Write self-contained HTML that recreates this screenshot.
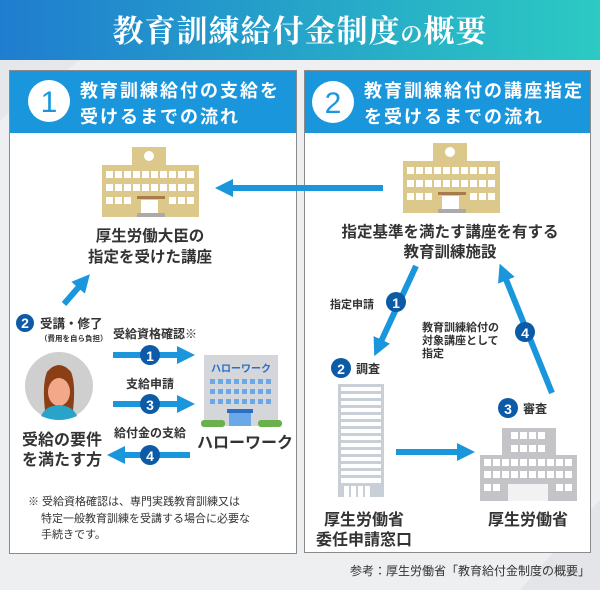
<!DOCTYPE html>
<html><head><meta charset="utf-8"><style>
html,body{margin:0;padding:0;background:#eeeff1;}
svg{display:block}
text{font-family:"Liberation Sans","Noto Sans CJK JP",sans-serif;}
.t{font-weight:bold;fill:#333;}
.w{fill:#fff;font-weight:bold;}
</style></head><body>
<svg width="600" height="590" viewBox="0 0 600 590" xmlns="http://www.w3.org/2000/svg">
<defs>
<linearGradient id="g" x1="0" x2="1"><stop offset="0" stop-color="#1f7dcf"/><stop offset="1" stop-color="#2ccac3"/></linearGradient>
<marker id="ah" markerWidth="3" markerHeight="3" refX="1.5" refY="1.5" orient="auto" markerUnits="strokeWidth"><path d="M0,0 L3,1.5 L0,3 z" fill="#1a96dc"/></marker>
</defs>
<rect width="600" height="590" fill="#eeeff1"/>
<polygon points="0,120 80,60 0,60" fill="#e6e7ea"/>
<polygon points="520,590 600,500 600,590" fill="#e4e5e8"/>
<rect width="600" height="60" fill="url(#g)"/>
<text x="300" y="42" text-anchor="middle" font-size="31" fill="#fff" style="font-family:'Noto Serif CJK SC','Liberation Serif',serif;font-weight:bold;letter-spacing:1px">教育訓練給付金制度<tspan font-size="22">の</tspan>概要</text>

<rect x="9.5" y="70.5" width="287" height="483" fill="#fff" stroke="#8a8a8a"/>
<rect x="10" y="71" width="286" height="62" fill="#1a96dc"/>
<rect x="304.5" y="70.5" width="286" height="482" fill="#fff" stroke="#8a8a8a"/>
<rect x="305" y="71" width="285" height="62" fill="#1a96dc"/>
<circle cx="49" cy="101" r="21" fill="#fff"/>
<text x="49" y="112" text-anchor="middle" font-size="30" fill="#1a96dc">1</text>
<text x="80" y="97" class="w" font-size="18" letter-spacing="2">教育訓練給付の支給を</text>
<text x="80" y="123" class="w" font-size="18" letter-spacing="2">受けるまでの流れ</text>
<circle cx="333" cy="102" r="21" fill="#fff"/>
<text x="333" y="113" text-anchor="middle" font-size="30" fill="#1a96dc">2</text>
<text x="364" y="97" class="w" font-size="18" letter-spacing="2">教育訓練給付の講座指定</text>
<text x="364" y="123" class="w" font-size="18" letter-spacing="2">を受けるまでの流れ</text>

<g id="school">
<rect x="132" y="147" width="34" height="20" fill="#dcc88a"/>
<circle cx="149" cy="156" r="5" fill="#fff"/>
<rect x="102" y="165" width="97" height="52" fill="#dcc88a"/>
<g fill="#fff">
<rect x="106" y="171" width="7" height="7"/><rect x="115" y="171" width="7" height="7"/><rect x="124" y="171" width="7" height="7"/><rect x="133" y="171" width="7" height="7"/><rect x="142" y="171" width="7" height="7"/><rect x="151" y="171" width="7" height="7"/><rect x="160" y="171" width="7" height="7"/><rect x="169" y="171" width="7" height="7"/><rect x="178" y="171" width="7" height="7"/><rect x="187" y="171" width="7" height="7"/>
<rect x="106" y="184" width="7" height="7"/><rect x="115" y="184" width="7" height="7"/><rect x="124" y="184" width="7" height="7"/><rect x="133" y="184" width="7" height="7"/><rect x="142" y="184" width="7" height="7"/><rect x="151" y="184" width="7" height="7"/><rect x="160" y="184" width="7" height="7"/><rect x="169" y="184" width="7" height="7"/><rect x="178" y="184" width="7" height="7"/><rect x="187" y="184" width="7" height="7"/>
<rect x="106" y="197" width="7" height="7"/><rect x="115" y="197" width="7" height="7"/><rect x="124" y="197" width="7" height="7"/><rect x="169" y="197" width="7" height="7"/><rect x="178" y="197" width="7" height="7"/><rect x="187" y="197" width="7" height="7"/>
<rect x="141" y="200" width="17" height="13"/>
</g>
<rect x="137" y="196" width="28" height="3" fill="#a87c4a"/>
<rect x="137" y="213" width="28" height="4" fill="#aaa"/>
</g>
<use href="#school" transform="translate(301,-4)"/>

<text x="150" y="241" text-anchor="middle" class="t" font-size="15.5">厚生労働大臣の</text>
<text x="150" y="262" text-anchor="middle" class="t" font-size="15.5">指定を受けた講座</text>
<text x="450" y="237" text-anchor="middle" class="t" font-size="15.5">指定基準を満たす講座を有する</text>
<text x="450" y="257" text-anchor="middle" class="t" font-size="15.5">教育訓練施設</text>

<g stroke="#1a96dc" stroke-width="6" fill="none" marker-end="url(#ah)">
<line x1="383" y1="188" x2="224" y2="188"/>
<line x1="64" y1="304" x2="84" y2="281"/>
<line x1="113" y1="355" x2="186" y2="355"/>
<line x1="113" y1="404" x2="186" y2="404"/>
<line x1="190" y1="455" x2="116" y2="455"/>
<line x1="416" y1="266" x2="378" y2="348"/>
<line x1="396" y1="452" x2="466" y2="452"/>
<line x1="552" y1="393" x2="503" y2="272"/>
</g>

<g font-size="14" font-weight="bold" fill="#fff" text-anchor="middle">
<circle cx="25" cy="323" r="9" fill="#0d5aa7"/><text x="25" y="328">2</text>
<circle cx="150" cy="355" r="10" fill="#0d5aa7"/><text x="150" y="361">1</text>
<circle cx="150" cy="404" r="10" fill="#0d5aa7"/><text x="150" y="410">3</text>
<circle cx="150" cy="455" r="10" fill="#0d5aa7"/><text x="150" y="461">4</text>
<circle cx="396" cy="302" r="10" fill="#0d5aa7"/><text x="396" y="308">1</text>
<circle cx="341" cy="368" r="10" fill="#0d5aa7"/><text x="341" y="374">2</text>
<circle cx="525" cy="332" r="10" fill="#0d5aa7"/><text x="525" y="338">4</text>
<circle cx="508" cy="408" r="10" fill="#0d5aa7"/><text x="508" y="414">3</text>
</g>

<text x="40" y="328" class="t" font-size="12.5">受講・修了</text>
<text x="40" y="341" class="t" font-size="7.5">（費用を自ら負担）</text>
<text x="155" y="338" text-anchor="middle" class="t" font-size="12">受給資格確認※</text>
<text x="150" y="388" text-anchor="middle" class="t" font-size="12">支給申請</text>
<text x="150" y="437" text-anchor="middle" class="t" font-size="12">給付金の支給</text>

<!-- person -->
<circle cx="59" cy="386" r="34" fill="#cfcfcf"/>
<path d="M45,410 Q42,384 47,372 Q59,358 71,372 Q76,384 73,410 Z" fill="#8b3f14"/>
<ellipse cx="59" cy="392" rx="11" ry="14" fill="#f4a88a"/>
<path d="M47,378 Q59,366 71,378 L71,372 Q59,360 47,372Z" fill="#8b3f14"/>
<path d="M41,416 Q45,406 59,405 Q73,406 77,416 Q68,420 59,420 Q50,420 41,416Z" fill="#2aa3c8"/>
<text x="22" y="445" class="t" font-size="16">受給の要件</text>
<text x="22" y="465" class="t" font-size="16">を満たす方</text>

<!-- hello work -->
<rect x="204" y="355" width="74" height="71" fill="#d4d6da"/>
<text x="241" y="372" text-anchor="middle" font-size="10" font-weight="bold" fill="#2a6fc4">ハローワーク</text>
<g fill="#6aa8e8">
<rect x="210" y="379" width="5" height="5"/><rect x="218" y="379" width="5" height="5"/><rect x="226" y="379" width="5" height="5"/><rect x="234" y="379" width="5" height="5"/><rect x="242" y="379" width="5" height="5"/><rect x="250" y="379" width="5" height="5"/><rect x="258" y="379" width="5" height="5"/><rect x="266" y="379" width="5" height="5"/>
<rect x="210" y="389" width="5" height="5"/><rect x="218" y="389" width="5" height="5"/><rect x="226" y="389" width="5" height="5"/><rect x="234" y="389" width="5" height="5"/><rect x="242" y="389" width="5" height="5"/><rect x="250" y="389" width="5" height="5"/><rect x="258" y="389" width="5" height="5"/><rect x="266" y="389" width="5" height="5"/>
<rect x="210" y="399" width="5" height="5"/><rect x="218" y="399" width="5" height="5"/><rect x="226" y="399" width="5" height="5"/><rect x="234" y="399" width="5" height="5"/><rect x="242" y="399" width="5" height="5"/><rect x="250" y="399" width="5" height="5"/><rect x="258" y="399" width="5" height="5"/><rect x="266" y="399" width="5" height="5"/>
<rect x="229" y="412" width="22" height="14"/>
</g>
<rect x="227" y="409" width="26" height="4" fill="#2a6fc4"/>
<rect x="201" y="420" width="24" height="7" rx="3" fill="#6ab04c"/>
<rect x="258" y="420" width="24" height="7" rx="3" fill="#6ab04c"/>
<text x="245" y="448" text-anchor="middle" class="t" font-size="16">ハローワーク</text>

<text x="28" y="505" fill="#333" font-size="11">※ 受給資格確認は、専門実践教育訓練又は</text>
<text x="41" y="522" fill="#333" font-size="11">特定一般教育訓練を受講する場合に必要な</text>
<text x="41" y="538" fill="#333" font-size="11">手続きです。</text>

<text x="330" y="308" class="t" font-size="11">指定申請</text>
<text x="356" y="373" class="t" font-size="12">調査</text>
<text x="523" y="413" class="t" font-size="12">審査</text>
<text x="422" y="331" class="t" font-size="11">教育訓練給付の</text>
<text x="422" y="344" class="t" font-size="11">対象講座として</text>
<text x="422" y="357" class="t" font-size="11">指定</text>

<rect x="338" y="384" width="46" height="113" fill="#c9cfd6"/>
<g fill="#fff">
<rect x="341" y="387" width="40" height="4"/><rect x="341" y="394" width="40" height="4"/><rect x="341" y="401" width="40" height="4"/><rect x="341" y="408" width="40" height="4"/><rect x="341" y="415" width="40" height="4"/><rect x="341" y="422" width="40" height="4"/><rect x="341" y="429" width="40" height="4"/><rect x="341" y="436" width="40" height="4"/><rect x="341" y="443" width="40" height="4"/><rect x="341" y="450" width="40" height="4"/><rect x="341" y="457" width="40" height="4"/><rect x="341" y="464" width="40" height="4"/><rect x="341" y="471" width="40" height="4"/><rect x="341" y="478" width="40" height="5"/>
<rect x="344" y="486" width="5" height="11"/><rect x="351" y="486" width="5" height="11"/><rect x="358" y="486" width="5" height="11"/><rect x="365" y="486" width="5" height="11"/>
</g>

<rect x="502" y="428" width="54" height="30" fill="#c4c4c8"/>
<rect x="480" y="455" width="97" height="46" fill="#c4c4c8"/>
<g fill="#fff">
<rect x="511" y="432" width="7" height="7"/><rect x="520" y="432" width="7" height="7"/><rect x="529" y="432" width="7" height="7"/><rect x="538" y="432" width="7" height="7"/>
<rect x="511" y="445" width="7" height="7"/><rect x="520" y="445" width="7" height="7"/><rect x="529" y="445" width="7" height="7"/><rect x="538" y="445" width="7" height="7"/>
<rect x="484" y="459" width="7" height="7"/><rect x="493" y="459" width="7" height="7"/><rect x="502" y="459" width="7" height="7"/><rect x="511" y="459" width="7" height="7"/><rect x="520" y="459" width="7" height="7"/><rect x="529" y="459" width="7" height="7"/><rect x="538" y="459" width="7" height="7"/><rect x="547" y="459" width="7" height="7"/><rect x="556" y="459" width="7" height="7"/><rect x="565" y="459" width="7" height="7"/>
<rect x="484" y="471" width="7" height="7"/><rect x="493" y="471" width="7" height="7"/><rect x="502" y="471" width="7" height="7"/><rect x="511" y="471" width="7" height="7"/><rect x="520" y="471" width="7" height="7"/><rect x="529" y="471" width="7" height="7"/><rect x="538" y="471" width="7" height="7"/><rect x="547" y="471" width="7" height="7"/><rect x="556" y="471" width="7" height="7"/><rect x="565" y="471" width="7" height="7"/>
<rect x="484" y="484" width="7" height="7"/><rect x="493" y="484" width="7" height="7"/><rect x="556" y="484" width="7" height="7"/><rect x="565" y="484" width="7" height="7"/>
<rect x="508" y="484" width="40" height="17" fill="#f2f2f2"/>
</g>

<text x="364" y="525" text-anchor="middle" class="t" font-size="16">厚生労働省</text>
<text x="364" y="545" text-anchor="middle" class="t" font-size="16">委任申請窓口</text>
<text x="528" y="525" text-anchor="middle" class="t" font-size="16">厚生労働省</text>

<text x="590" y="575" text-anchor="end" fill="#333" font-size="12">参考：厚生労働省「教育給付金制度の概要」</text>
</svg>
</body></html>
